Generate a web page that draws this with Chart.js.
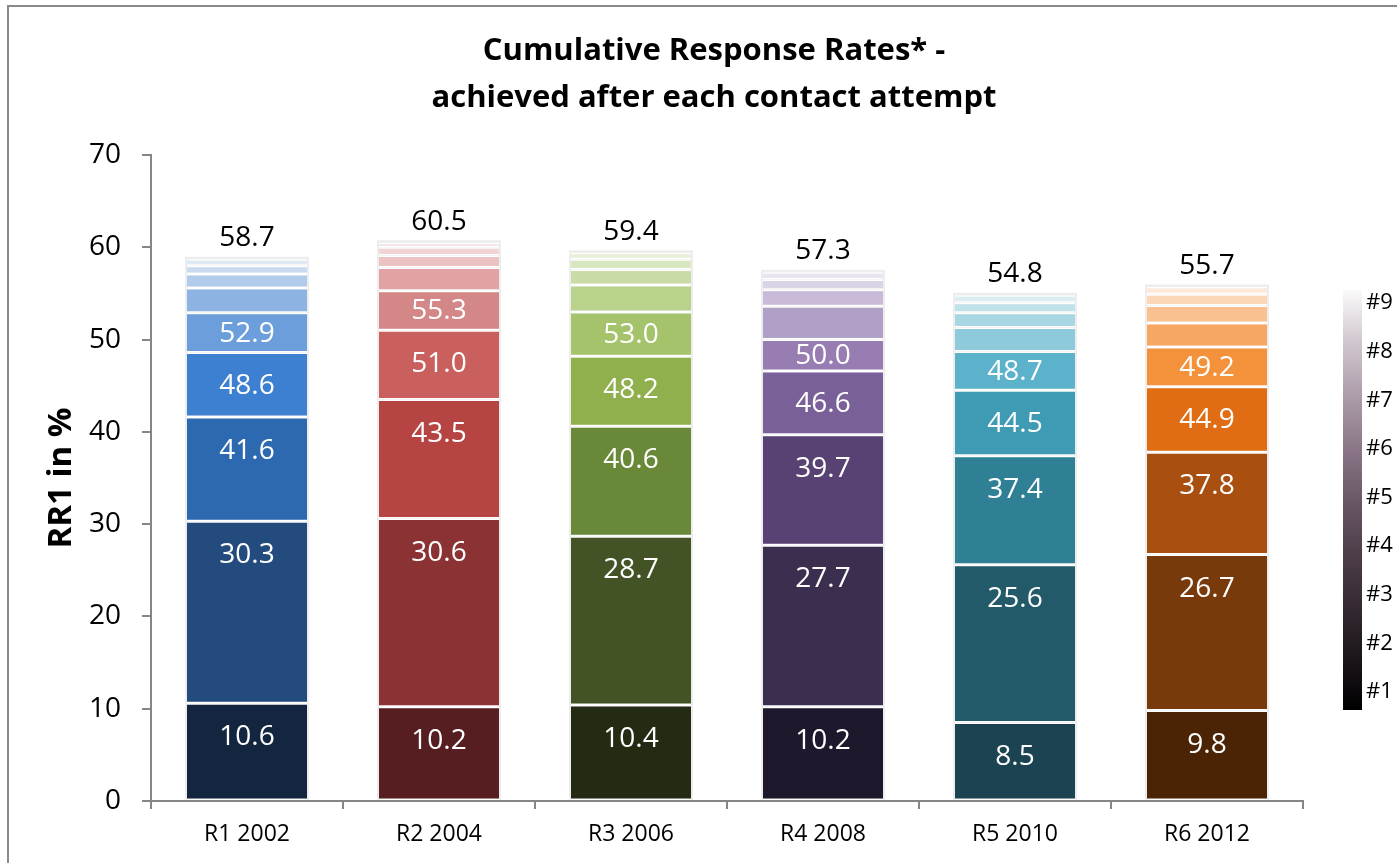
<!DOCTYPE html>
<html>
<head>
<meta charset="utf-8">
<script src="https://cdn.jsdelivr.net/npm/chart.js@4.4.1/dist/chart.umd.min.js"></script>
<style>
  html, body { margin: 0; padding: 0; background: #fff; }
  canvas { display: block; }
</style>
</head>
<body>
<canvas id="chart" width="1397" height="863"></canvas>
<script>
// Survey rounds on the x axis
const rounds = ['R1 2002', 'R2 2004', 'R3 2006', 'R4 2008', 'R5 2010', 'R6 2012'];
// Contact attempts (one stacked segment each)
const attempts = ['#1', '#2', '#3', '#4', '#5', '#6', '#7', '#8', '#9'];
// Cumulative response rate (%) reached after each contact attempt, per round
const r1 = [10.6, 30.3, 41.6, 48.6, 52.9, 55.6, 57.1, 58.0, 58.7];
const r2 = [10.2, 30.6, 43.5, 51.0, 55.3, 57.8, 59.1, 60.0, 60.5];
const r3 = [10.4, 28.7, 40.6, 48.2, 53.0, 55.9, 57.6, 58.7, 59.4];
const r4 = [10.2, 27.7, 39.7, 46.6, 50.0, 53.6, 55.4, 56.5, 57.3];
const r5 = [8.5, 25.6, 37.4, 44.5, 48.7, 51.3, 52.9, 54.0, 54.8];
const r6 = [9.8, 26.7, 37.8, 44.9, 49.2, 51.8, 53.7, 54.9, 55.7];
const cumulative = [r1, r2, r3, r4, r5, r6];
// y axis ticks
const yTicks = [0, 10, 20, 30, 40, 50, 60, 70];
// Chart heading
const titleLines = ['Cumulative Response Rates* -', 'achieved after each contact attempt'];

// Colour ramps per round, from attempt #1 (dark) to #9 (light)
const palettes = [
  ['#13253f', '#234b7e', '#2d69b0', '#3d80d1', '#6b9edb', '#8db3e2', '#b1cbeb', '#c9daf1', '#dfe8f5'],
  ['#561e20', '#8b3334', '#b64442', '#c9605e', '#d48787', '#e0a2a2', '#ebc3c3', '#f1d4d4', '#f6e3e3'],
  ['#232b13', '#435325', '#6a8938', '#8fb04d', '#a4c36a', '#b9d28c', '#c9dca6', '#d9e7c0', '#e8f0d9'],
  ['#1f172b', '#3c2e4e', '#574273', '#7a6098', '#977db1', '#b0a0c8', '#c8bad8', '#dbd3e6', '#e9e4f0'],
  ['#1b4351', '#225a69', '#2f8095', '#3f9ab3', '#5db2cb', '#8dcadc', '#a8d7e3', '#c0e2eb', '#dceef3'],
  ['#4a2405', '#793a0b', '#a94f10', '#e06c14', '#f4923c', '#f7a664', '#f9c18f', '#fbd6b7', '#fdeadb']
];

const FONT = '"Open Sans", "Noto Sans", sans-serif';

// One floating bar per attempt: from the previous cumulative value up to this one
const datasets = attempts.map((name, k) => ({
  label: name,
  data: cumulative.map(r => [k === 0 ? 0 : r[k - 1], r[k]]),
  backgroundColor: palettes.map(p => p[k]),
  borderColor: '#ffffff',
  borderWidth: { top: 1.5, bottom: 1.5, left: 0, right: 0 },
  borderSkipped: false,
  grouped: false,
  barPercentage: 0.625,
  categoryPercentage: 1.0
}));

// Outer frame of the chart object and the two-line heading
const framePlugin = {
  id: 'frame',
  beforeDraw(chart) {
    const ctx = chart.ctx;
    ctx.save();
    ctx.fillStyle = '#ffffff';
    ctx.fillRect(0, 0, chart.width, chart.height);
    ctx.strokeStyle = '#8a8a8a';
    ctx.lineWidth = 2;
    ctx.strokeRect(8, 6, chart.width + 20, chart.height + 20);
    ctx.font = 'bold 31px ' + FONT;
    ctx.fillStyle = '#000000';
    ctx.textAlign = 'center';
    ctx.textBaseline = 'middle';
    titleLines.forEach((t, i) => ctx.fillText(t, 714, 51 + i * 47));
    ctx.restore();
  }
};

// Light grey halo behind each full bar stack
const haloPlugin = {
  id: 'halo',
  beforeDatasetsDraw(chart) {
    const ctx = chart.ctx;
    const first = chart.getDatasetMeta(0).data;
    const last = chart.getDatasetMeta(attempts.length - 1).data;
    ctx.save();
    ctx.fillStyle = '#ededed';
    first.forEach((el, i) => {
      const top = last[i].y;
      const half = el.width / 2;
      ctx.fillRect(el.x - half - 2, top - 2.5, el.width + 4, el.base - top + 2.5);
    });
    ctx.restore();
  }
};

// Cumulative value labels inside the first five segments, total above each bar
const labelPlugin = {
  id: 'valueLabels',
  afterDatasetsDraw(chart) {
    const ctx = chart.ctx;
    ctx.save();
    ctx.textAlign = 'center';
    ctx.textBaseline = 'middle';
    ctx.font = '28px ' + FONT;
    ctx.fillStyle = '#ffffff';
    for (let k = 0; k < 5; k++) {
      chart.getDatasetMeta(k).data.forEach((el, i) => {
        const top = el.y, bottom = el.base;
        const y = Math.min(top + 33, (top + bottom) / 2);
        ctx.fillText(cumulative[i][k].toFixed(1), el.x, y + 1);
      });
    }
    ctx.fillStyle = '#000000';
    chart.getDatasetMeta(attempts.length - 1).data.forEach((el, i) => {
      ctx.fillText(cumulative[i][attempts.length - 1].toFixed(1), el.x, el.y - 21);
    });
    ctx.restore();
  }
};

// Vertical colour key for the attempt number
const keyPlugin = {
  id: 'attemptKey',
  afterDraw(chart) {
    const ctx = chart.ctx;
    const x = 1343, w = 19, top = 290, bottom = 710;
    ctx.save();
    const g = ctx.createLinearGradient(0, bottom, 0, top);
    g.addColorStop(0.00, '#000000');
    g.addColorStop(0.12, '#1c151b');
    g.addColorStop(0.25, '#352a33');
    g.addColorStop(0.38, '#4f3f4b');
    g.addColorStop(0.50, '#6b5867');
    g.addColorStop(0.62, '#8a7686');
    g.addColorStop(0.75, '#ad9dab');
    g.addColorStop(0.88, '#d2c8d0');
    g.addColorStop(1.00, '#fbfafb');
    ctx.fillStyle = g;
    ctx.fillRect(x, top, w, bottom - top);
    ctx.font = '22px ' + FONT;
    ctx.fillStyle = '#000000';
    ctx.textAlign = 'left';
    ctx.textBaseline = 'middle';
    const y1 = 692, y9 = 303;
    attempts.forEach((a, k) => {
      const y = y1 - (y1 - y9) * k / (attempts.length - 1);
      ctx.fillText(a, x + 23, y);
    });
    ctx.restore();
  }
};

new Chart(document.getElementById('chart'), {
  type: 'bar',
  data: { labels: rounds, datasets },
  plugins: [framePlugin, haloPlugin, labelPlugin, keyPlugin],
  options: {
    responsive: false,
    devicePixelRatio: 1,
    animation: false,
    layout: { padding: { top: 155, right: 94, bottom: 0, left: 0 } },
    plugins: {
      legend: { display: false },
      tooltip: { enabled: false },
      title: { display: false }
    },
    scales: {
      x: {
        ticks: { color: '#000000', font: { family: FONT, size: 23 }, padding: 12 },
        grid: { offset: true, drawOnChartArea: false, drawTicks: true, tickLength: 8, color: '#868686', lineWidth: 2 },
        border: { display: true, color: '#868686', width: 2 },
        afterFit(scale) { scale.height = 62; }
      },
      y: {
        min: 0,
        max: 70,
        afterBuildTicks(scale) { scale.ticks = yTicks.map(v => ({ value: v })); },
        ticks: { color: '#000000', font: { family: FONT, size: 28 }, padding: 21 },
        grid: { drawOnChartArea: false, drawTicks: true, tickLength: 9, color: '#868686', lineWidth: 2 },
        border: { display: true, color: '#868686', width: 2 },
        title: {
          display: true,
          text: 'RR1 in %',
          color: '#000000',
          font: { family: FONT, size: 33, weight: 'bold', lineHeight: 1.2 },
          padding: { top: 42, bottom: 0 }
        },
        afterFit(scale) { scale.width = 151; }
      }
    }
  }
});
</script>
</body>
</html>
